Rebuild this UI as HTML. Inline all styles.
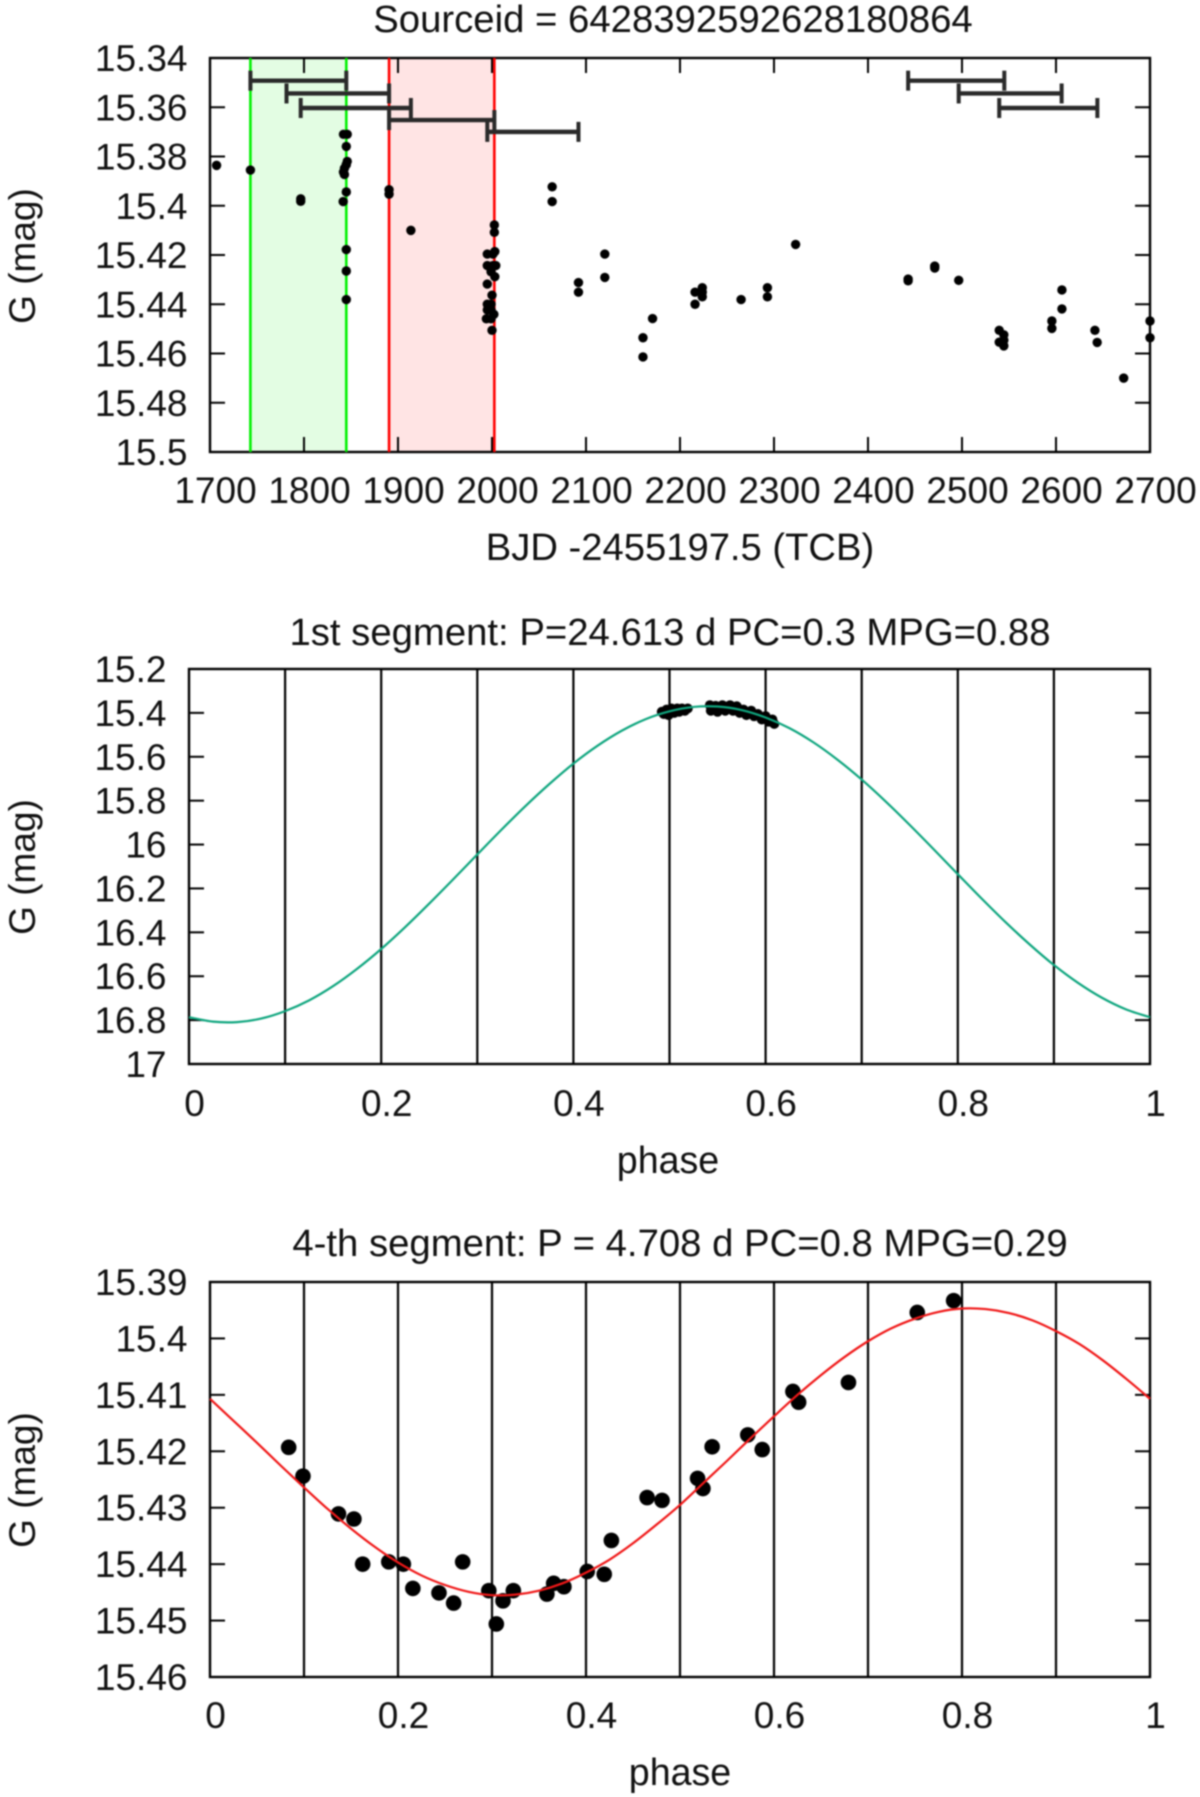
<!DOCTYPE html>
<html lang="en">
<head>
<meta charset="utf-8">
<title>Sourceid 6428392592628180864 light curve</title>
<style>
html,body{margin:0;padding:0;background:#fff;width:1200px;height:1797px;overflow:hidden}
svg{display:block;filter:blur(0.7px)}
text{font-family:"Liberation Sans",Arial,sans-serif;fill:#111}
.title{font-size:38.3px;text-anchor:middle}
.axis{font-size:37.6px;text-anchor:middle}
.tick{font-size:37px}
</style>
</head>
<body>
<svg id="figure" xmlns="http://www.w3.org/2000/svg" width="1200" height="1797" viewBox="0 0 1200 1797">
  <rect x="0" y="0" width="1200" height="1797" fill="#ffffff"/>
  <text class="title" x="673" y="32">Sourceid = 6428392592628180864</text>
  <text class="axis" x="680" y="560" style="font-size:38.2px">BJD -2455197.5 (TCB)</text>
  <text class="axis" x="0" y="0" transform="translate(35 256) rotate(-90)" style="font-size:37px">G (mag)</text>
  <text class="title" x="670" y="645">1st segment: P=24.613 d PC=0.3 MPG=0.88</text>
  <text class="axis" x="668" y="1173">phase</text>
  <text class="axis" x="0" y="0" transform="translate(35 867) rotate(-90)" style="font-size:37px">G (mag)</text>
  <text class="title" x="680" y="1256">4-th segment: P = 4.708 d PC=0.8 MPG=0.29</text>
  <text class="axis" x="680" y="1785">phase</text>
  <text class="axis" x="0" y="0" transform="translate(35 1480) rotate(-90)" style="font-size:37px">G (mag)</text>
</svg>
<script>
/* ---- light curve panel ---- */
const timeTickLabels = ['1700','1800','1900','2000','2100','2200','2300','2400','2500','2600','2700'];
const timeMagTickLabels = ['15.34','15.36','15.38','15.4','15.42','15.44','15.46','15.48','15.5'];
const lcTimes = [1707,1743,1796.5,1796.5,1842,1846,1845,1846,1845,1843,1842,1843,1845,1841.7,1845,1845,1845,
  1890.5,1890.5,1913.7,2064,2064,2092,2092,
  2002.5,2002.5,2003,1995,2001,1995,2001,2004,1999,2003,1995,2000,1995,1999,1995,1999,2002,1994,1999,2000,
  2120,2120,2160.6,2160.6,2170.8,2216,2216,2223.7,2223.7,2223.7,2265,2293,2293,2323,
  2442.7,2442.7,2471,2471,2496.5,2539.6,2539.6,2544.5,2544.5,2544.5,2595.6,2595.6,2606.3,2606.3,2641.4,2643.8,2672,2700,2700];
const lcMags = [15.3836,15.3855,15.3972,15.3982,15.371,15.371,15.3759,15.382,15.3833,15.3848,15.3863,15.3873,15.3944,15.3983,15.4178,15.4265,15.4381,
  15.3935,15.3953,15.41,15.3923,15.3983,15.4312,15.4351,
  15.4078,15.4108,15.4186,15.4196,15.4196,15.4243,15.4243,15.4243,15.4268,15.4288,15.4318,15.4363,15.44,15.44,15.4423,15.4423,15.4441,15.4459,15.4459,15.4506,
  15.4196,15.4291,15.4536,15.4614,15.4458,15.44,15.4351,15.4333,15.4351,15.437,15.4381,15.4333,15.437,15.4157,
  15.4298,15.4305,15.4245,15.4253,15.4303,15.4506,15.4554,15.4524,15.4546,15.4569,15.4468,15.4498,15.4342,15.4419,15.4506,15.4555,15.47,15.4468,15.4536];
const windowStarts = [1743,1781.4,1796.5,1890.5,1995,2442.7,2496.5,2539.6];
const windowEnds = [1845,1890.5,1913.7,2002.5,2092,2545,2606,2644];
const windowMags = [15.3492,15.3544,15.3603,15.3652,15.37,15.3492,15.3544,15.3603];
const greenBand = [1743,1845];
const redBand = [1890.5,2002.5];

/* ---- phase panels ---- */
const phaseTickLabels = ['0','0.2','0.4','0.6','0.8','1'];
const phaseGrid = [0.1,0.2,0.3,0.4,0.5,0.6,0.7,0.8,0.9];
const seg1MagTickLabels = ['15.2','15.4','15.6','15.8','16','16.2','16.4','16.6','16.8','17'];
const seg4MagTickLabels = ['15.39','15.4','15.41','15.42','15.43','15.44','15.45','15.46'];
const curvePhases = [0,0.025,0.05,0.075,0.1,0.125,0.15,0.175,0.2,0.225,0.25,0.275,0.3,0.325,0.35,0.375,0.4,0.425,0.45,0.475,0.5,0.525,0.55,0.575,0.6,0.625,0.65,0.675,0.7,0.725,0.75,0.775,0.8,0.825,0.85,0.875,0.9,0.925,0.95,0.975,1];
const seg1CurveMags = [16.787,16.807,16.809,16.793,16.759,16.71,16.645,16.566,16.476,16.376,16.269,16.158,16.045,15.933,15.825,15.724,15.631,15.55,15.482,15.429,15.393,15.373,15.371,15.387,15.421,15.47,15.535,15.614,15.704,15.804,15.911,16.022,16.135,16.247,16.355,16.456,16.549,16.63,16.698,16.751,16.787];
const seg4CurveMags = [15.4107,15.4146,15.4185,15.4225,15.4264,15.4302,15.4337,15.4369,15.4397,15.442,15.4437,15.4449,15.4455,15.4454,15.4447,15.4434,15.4415,15.4392,15.4363,15.433,15.4295,15.4256,15.4217,15.4177,15.4138,15.41,15.4065,15.4033,15.4005,15.3982,15.3965,15.3953,15.3947,15.3948,15.3955,15.3968,15.3987,15.401,15.4039,15.4072,15.4107];
const seg1Phases = [0.492,0.494,0.497,0.499,0.502,0.505,0.508,0.51,0.513,0.516,0.519,0.542,0.543,0.548,0.55,0.555,0.558,0.563,0.566,0.57,0.573,0.577,0.58,0.585,0.588,0.592,0.596,0.6,0.603,0.607,0.609];
const seg1Mags = [15.395,15.405,15.385,15.41,15.38,15.4,15.38,15.395,15.38,15.39,15.38,15.365,15.39,15.368,15.395,15.365,15.39,15.365,15.39,15.37,15.4,15.385,15.41,15.39,15.415,15.405,15.43,15.415,15.44,15.43,15.45];
const seg4Phases = [0.0837,0.0989,0.1367,0.1531,0.1624,0.1902,0.2057,0.2158,0.2436,0.2592,0.2688,0.2966,0.3046,0.3117,0.3227,0.3584,0.3656,0.3765,0.4013,0.4194,0.427,0.465,0.4809,0.5187,0.5244,0.5342,0.5721,0.5875,0.6201,0.6262,0.6792,0.7524,0.7911];
const seg4Mags = [15.4193,15.4244,15.4311,15.432,15.44,15.4396,15.44,15.4443,15.4451,15.4469,15.4396,15.4447,15.4506,15.4465,15.4447,15.4453,15.4434,15.444,15.4413,15.4418,15.4358,15.4282,15.4287,15.4248,15.4266,15.4192,15.4171,15.4197,15.4094,15.4113,15.4078,15.3954,15.3933];

const svg = document.getElementById('figure');
const NS = 'http://www.w3.org/2000/svg';

function mk(tag, attrs) {
  const el = document.createElementNS(NS, tag);
  for (const k in attrs) el.setAttribute(k, attrs[k]);
  svg.appendChild(el);
  return el;
}
function scale(d0, d1, r0, r1) {
  return v => r0 + (v - d0) / (d1 - d0) * (r1 - r0);
}
function drawLine(x1, y1, x2, y2, color, width) {
  return mk('line', {x1: x1, y1: y1, x2: x2, y2: y2, stroke: color, 'stroke-width': width});
}
function drawYLabel(label, yAxis, left, prefix) {
  const t = mk('text', {class: 'tick', x: left - 22.5, y: yAxis(parseFloat(label)) + 13, 'text-anchor': 'end'});
  t.textContent = label;
  
  
}
function drawYTicks(labels, yAxis, left, right, prefix) {
  labels.forEach(label => {
    const y = yAxis(parseFloat(label));
    const a = drawLine(left, y, left + 15, y, '#000', 2);
    
    
    const b = drawLine(right - 15, y, right, y, '#000', 2);
    
    
    drawYLabel(label, yAxis, left, prefix);
  });
}
function drawXLabels(labels, xAxis, baseline, prefix) {
  labels.forEach(label => {
    const t = mk('text', {class: 'tick', x: xAxis(parseFloat(label)) + 5.5, y: baseline, 'text-anchor': 'middle'});
    t.textContent = label;
    
    
  });
}
function drawFrame(left, top, right, bottom, prefix) {
  const f = mk('rect', {x: left, y: top, width: right - left, height: bottom - top, fill: 'none', stroke: '#000', 'stroke-width': 2.4});
  
  
}
function drawCurve(phases, mags, xAxis, yAxis, color, name) {
  const P = phases.map((p, i) => [xAxis(p), yAxis(mags[i])]);
  let d = 'M' + P[0][0].toFixed(2) + ' ' + P[0][1].toFixed(2);
  for (let i = 0; i < P.length - 1; i++) {
    const p0 = P[Math.max(0, i - 1)], p1 = P[i], p2 = P[i + 1], p3 = P[Math.min(P.length - 1, i + 2)];
    d += ' C' + (p1[0] + (p2[0] - p0[0]) / 6).toFixed(2) + ' ' + (p1[1] + (p2[1] - p0[1]) / 6).toFixed(2)
      + ' ' + (p2[0] - (p3[0] - p1[0]) / 6).toFixed(2) + ' ' + (p2[1] - (p3[1] - p1[1]) / 6).toFixed(2)
      + ' ' + p2[0].toFixed(2) + ' ' + p2[1].toFixed(2);
  }
  const c = mk('path', {d: d, fill: 'none', stroke: color, 'stroke-width': 2.2});
  
  
}
function drawPoints(xs, ys, xAxis, yAxis, r, name) {
  xs.forEach((v, i) => {
    const d = mk('circle', {cx: xAxis(v), cy: yAxis(ys[i]), r: r, fill: '#000'});
    
    
  });
}

/* Panel 1: full light curve */
(function () {
  const L = 210, R = 1150, T = 58, B = 452;
  const x = scale(1700, 2700, L, R);
  const y = scale(15.34, 15.5, T, B);
  [[greenBand, '#e3fde3', '#00f000', 'green'], [redBand, '#ffe4e4', '#ff0000', 'red']].forEach(b => {
    const r = mk('rect', {x: x(b[0][0]), y: T, width: x(b[0][1]) - x(b[0][0]), height: B - T, fill: b[1]});
    
    
  });
  drawFrame(L, T, R, B, 'time');
  timeTickLabels.slice(1, -1).forEach(label => {
    const px = x(parseFloat(label));
    const a = drawLine(px, T, px, T + 15, '#000', 2);
    
    
    const b = drawLine(px, B - 15, px, B, '#000', 2);
    
    
  });
  drawYTicks(timeMagTickLabels.slice(1, -1), y, L, R, 'time');
  drawYLabel(timeMagTickLabels[0], y, L, 'time');
  drawYLabel(timeMagTickLabels[timeMagTickLabels.length - 1], y, L, 'time');
  drawXLabels(timeTickLabels, x, 503, 'time');
  [[greenBand, '#00f000', 'green'], [redBand, '#ff0000', 'red']].forEach(b => {
    b[0].forEach(v => {
      const l = drawLine(x(v), T, x(v), B, b[1], 2.6);
      
      
    });
  });
  drawPoints(lcTimes, lcMags, x, y, 4.7, 'light-curve-point');
  windowStarts.forEach((s, i) => {
    const py = y(windowMags[i]);
    const h = drawLine(x(s), py, x(windowEnds[i]), py, '#2a2a2a', 4.4);
    
    
    const c1 = drawLine(x(s), py - 10, x(s), py + 10, '#2a2a2a', 4);
    
    
    const c2 = drawLine(x(windowEnds[i]), py - 10, x(windowEnds[i]), py + 10, '#2a2a2a', 4);
    
    
  });
})();

/* Panels 2 and 3: phase-folded segments */
function drawPhasePanel(L, R, T, B, dMin, dMax, magLabels, labelBase, phases, mags, curve, color, r, prefix) {
  const x = scale(0, 1, L, R);
  const y = scale(dMin, dMax, T, B);
  drawFrame(L, T, R, B, prefix);
  phaseGrid.forEach(p => {
    const g = drawLine(x(p), T, x(p), B, '#000', 2.2);
    
    
  });
  drawYTicks(magLabels.slice(1, -1), y, L, R, prefix);
  drawYLabel(magLabels[0], y, L, prefix);
  drawYLabel(magLabels[magLabels.length - 1], y, L, prefix);
  drawXLabels(phaseTickLabels, x, labelBase, prefix);
  drawPoints(phases, mags, x, y, r, prefix + '-phase-point');
  drawCurve(curvePhases, curve, x, y, color, prefix + '-fit-curve');
}
drawPhasePanel(189, 1150, 669, 1064, 15.2, 17, seg1MagTickLabels, 1116, seg1Phases, seg1Mags, seg1CurveMags, '#10a67f', 5, 'segment-1');
drawPhasePanel(210, 1150, 1282, 1677, 15.39, 15.46, seg4MagTickLabels, 1728, seg4Phases, seg4Mags, seg4CurveMags, '#f01818', 7.8, 'segment-4');
</script>
</body>
</html>
